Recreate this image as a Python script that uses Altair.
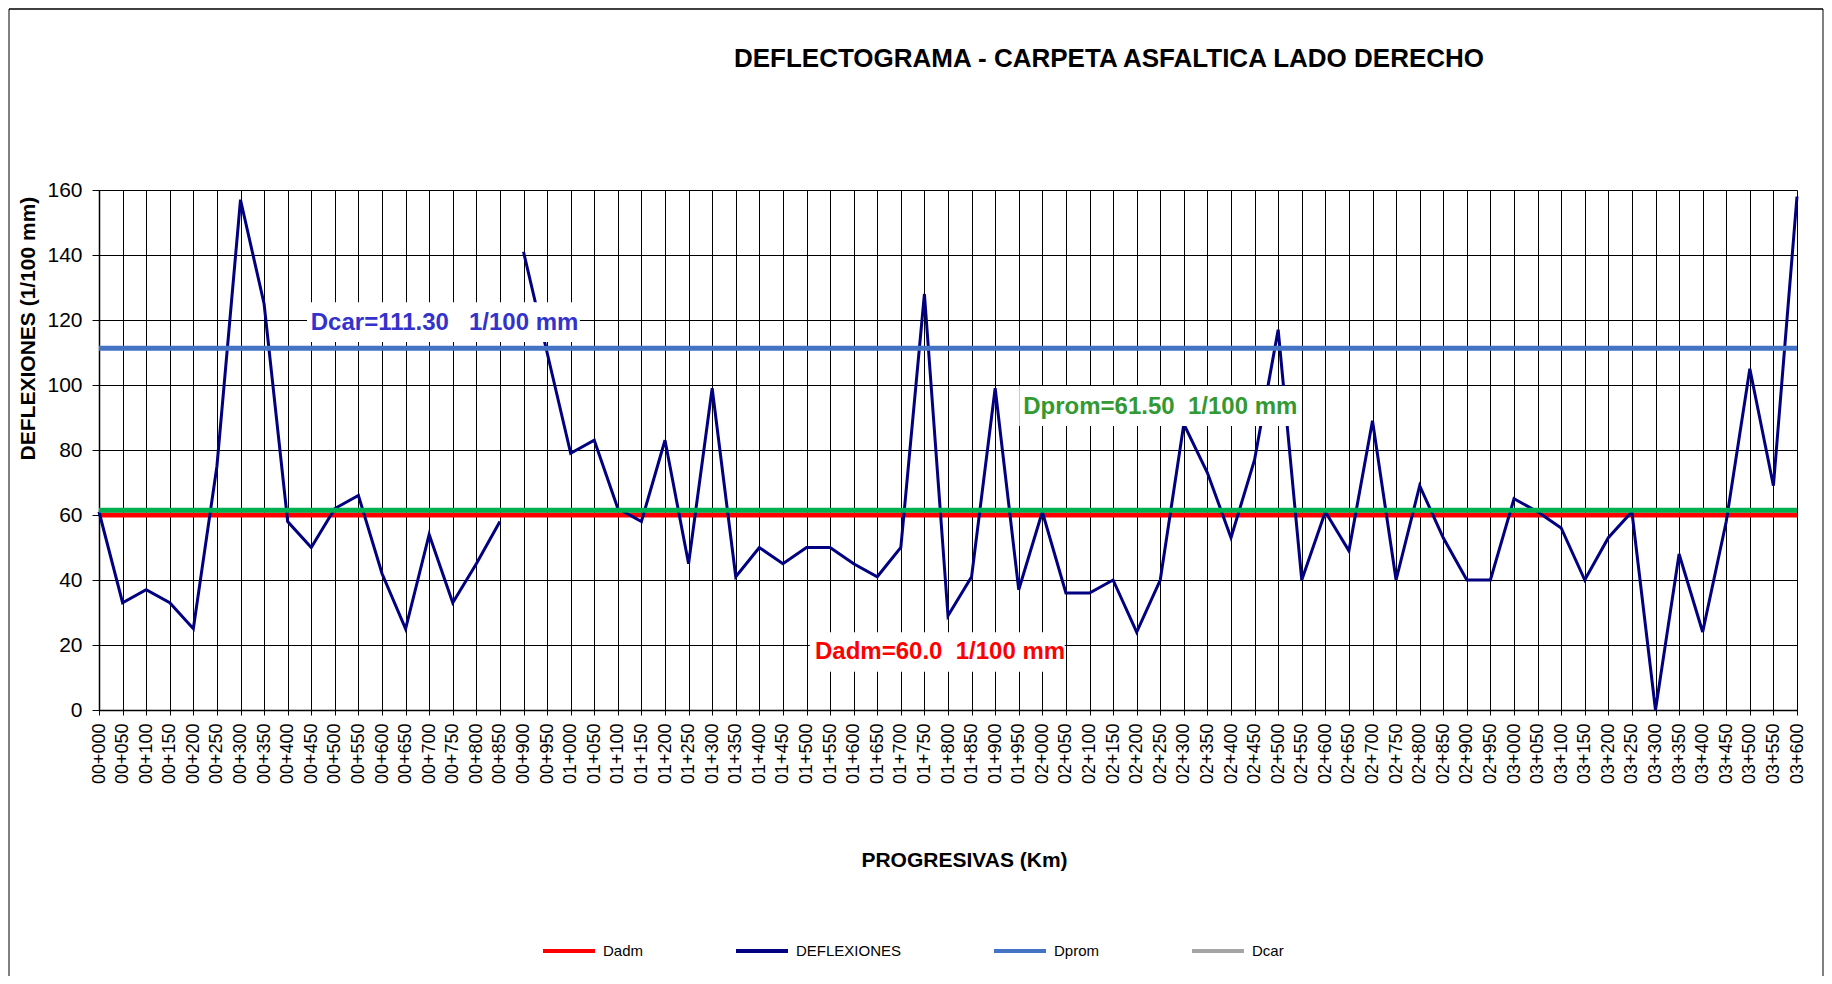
import altair as alt
import pandas as pd

FONT = "Liberation Sans"

# ---------------- data ----------------
progresivas = [
    "00+000", "00+050", "00+100", "00+150", "00+200", "00+250", "00+300", "00+350",
    "00+400", "00+450", "00+500", "00+550", "00+600", "00+650", "00+700", "00+750",
    "00+800", "00+850", "00+900", "00+950", "01+000", "01+050", "01+100", "01+150",
    "01+200", "01+250", "01+300", "01+350", "01+400", "01+450", "01+500", "01+550",
    "01+600", "01+650", "01+700", "01+750", "01+800", "01+850", "01+900", "01+950",
    "02+000", "02+050", "02+100", "02+150", "02+200", "02+250", "02+300", "02+350",
    "02+400", "02+450", "02+500", "02+550", "02+600", "02+650", "02+700", "02+750",
    "02+800", "02+850", "02+900", "02+950", "03+000", "03+050", "03+100", "03+150",
    "03+200", "03+250", "03+300", "03+350", "03+400", "03+450", "03+500", "03+550",
    "03+600",
]
deflexiones = [
    61, 33, 37, 33, 25, 75, 157, 125,
    58, 50, 62, 66, 42, 25, 54, 33,
    45, 58, 141, 110, 79, 83, 62, 58,
    83, 45, 99, 41, 50, 45, 50, 50,
    45, 41, 50, 128, 29, 41, 99, 37,
    61, 36, 36, 40, 24, 40, 88, 73,
    53, 77, 117, 40, 61, 49, 89, 40,
    69, 53, 40, 40, 65, 61, 56, 40,
    53, 61, 0, 48, 24, 58, 105, 69,
    158,
]
# the line is broken between 00+850 and 00+900
tramo = [0] * 18 + [1] * 55

dadm = 60.0
dprom = 61.5
dcar = 111.3

legend_series = ["Dadm", "DEFLEXIONES", "Dprom", "Dcar"]
legend_colors = ["#FF0000", "#000080", "#4472C4", "#A5A5A5"]

ann_text = ["Dcar=111.30\u00a0\u00a0 1/100 mm", "Dprom=61.50\u00a0 1/100 mm", "Dadm=60.0\u00a0 1/100 mm"]
ann_color = ["#3333CC", "#339933", "#FF0000"]
ann_x = [8.98, 39.19, 30.36]
ann_y = [116.9, 91.1, 15.6]
box_x1 = [8.82, 39.02, 30.14]
box_x2 = [20.39, 50.78, 40.95]
box_y1 = [113.2, 87.4, 11.8]
box_y2 = [125.5, 99.7, 23.9]

# ---------------- tables ----------------
df = pd.DataFrame({
    "idx": list(range(len(progresivas))),
    "prog": progresivas,
    "val": deflexiones,
    "tramo": tramo,
})
df_ann = pd.DataFrame({"t": ann_text, "c": ann_color, "idx": ann_x, "val": ann_y})
df_box = pd.DataFrame({"idx": box_x1, "idx2": box_x2, "val": box_y1, "val2": box_y2})
df_leg = pd.DataFrame({"serie": legend_series, "idx": [0, 0, 0, 0], "val": [0, 0, 0, 0]})
df_one = pd.DataFrame({"k": [0]})

W, H = 1698, 520
label_expr = "[" + ",".join("'%s'" % p for p in progresivas) + "][datum.value]"

x_axis = alt.Axis(
    values=list(range(len(progresivas))), labelExpr=label_expr, labelAngle=270,
    labelFontSize=18, labelFont=FONT, labelColor="#000000", labelOverlap=False,
    labelFlush=False, labelPadding=8, tickSize=5, tickColor="#000000",
    domainColor="#000000", domainWidth=1.5,
    grid=True, gridColor="#000000", gridWidth=1,
    title="PROGRESIVAS (Km)", titleFont=FONT, titleFontSize=21, titleFontWeight="bold",
    titleColor="#000000", titleX=865, titleY=150, titleAlign="center", titleBaseline="middle",
)
y_axis = alt.Axis(
    values=[0, 20, 40, 60, 80, 100, 120, 140, 160],
    labelFontSize=21, labelFont=FONT, labelColor="#000000", labelPadding=10,
    tickSize=7, tickColor="#000000", domainColor="#000000", domainWidth=1.5,
    grid=True, gridColor="#000000", gridWidth=1,
    title="DEFLEXIONES (1/100 mm)", titleFont=FONT, titleFontSize=21, titleFontWeight="bold",
    titleColor="#000000", titleX=-70.7, titleY=138, titleAngle=270,
    titleAlign="center", titleBaseline="middle",
)
x_scale = alt.Scale(domain=[0, 72], nice=False, zero=False)
y_scale = alt.Scale(domain=[0, 160], nice=False)

X = lambda f="idx": alt.X(f"{f}:Q", scale=x_scale, axis=x_axis, title="PROGRESIVAS (Km)")
Y = lambda f="val": alt.Y(f"{f}:Q", scale=y_scale, axis=y_axis, title="DEFLEXIONES (1/100 mm)")

# ---------------- layers ----------------
def hrule(value, color):
    return alt.Chart(pd.DataFrame({"val": [value]})).mark_rule(
        color=color, strokeWidth=5
    ).encode(y=Y())

rule_dadm = hrule(dadm, "#FF0000")
line = alt.Chart(df).mark_line(color="#000080", strokeWidth=3).encode(
    x=X(), y=Y(), detail="tramo:N", order="idx:Q"
)
rule_dcar = hrule(dcar, "#4472C4")
rule_dprom = hrule(dprom, "#00B050")

boxes = alt.Chart(df_box).mark_rect(color="#FFFFFF").encode(
    x=X(), x2="idx2:Q", y=Y(), y2="val2:Q"
)
texts = alt.Chart(df_ann).mark_text(
    align="left", baseline="alphabetic", font=FONT, fontSize=24, fontWeight="bold"
).encode(x=X(), y=Y(), text="t:N", color=alt.Color("c:N", scale=None))

legend_layer = alt.Chart(df_leg).mark_rule(strokeWidth=4, strokeCap="butt").encode(
    x=X(), x2="idx:Q", y=Y(),
    color=alt.Color(
        "serie:N",
        scale=alt.Scale(domain=legend_series, range=legend_colors),
        legend=alt.Legend(
            orient="none", legendX=442, legendY=733, direction="horizontal", title=None,
            symbolType="stroke", symbolSize=2704, symbolStrokeWidth=4,
            labelFont=FONT, labelFontSize=15, labelColor="#000000", labelOffset=6,
            columnPadding=84, padding=0,
        ),
    ),
)

frame_side_l = alt.Chart(df_one).mark_rule(color="#808080", strokeWidth=2).encode(
    x=alt.value(-90), y=alt.value(-181), y2=alt.value(790)
)
frame_side_r = alt.Chart(df_one).mark_rule(color="#808080", strokeWidth=2).encode(
    x=alt.value(1724), y=alt.value(-181), y2=alt.value(790)
)
frame_top = alt.Chart(df_one).mark_rule(color="#000000", strokeWidth=1.5).encode(
    x=alt.value(-90), x2=alt.value(1724), y=alt.value(-181)
)

chart = alt.layer(
    rule_dadm, line, rule_dcar, rule_dprom, boxes, texts, legend_layer,
    frame_side_l, frame_side_r, frame_top,
).properties(
    width=W, height=H,
    autosize=alt.AutoSizeParams(type="none"),
    padding={"left": 91, "top": 182, "right": 27, "bottom": 266},
    title=alt.TitleParams(
        "DEFLECTOGRAMA - CARPETA ASFALTICA LADO DERECHO",
        font=FONT, fontSize=26, fontWeight="bold", color="#000000",
        anchor="middle", frame="group", dx=161, offset=0, dy=85.4, baseline="alphabetic",
    ),
).configure_view(
    stroke="#808080", strokeWidth=2
).configure(background="#FFFFFF")

chart.save("out.html", embed_options={"renderer": "svg", "actions": False})
